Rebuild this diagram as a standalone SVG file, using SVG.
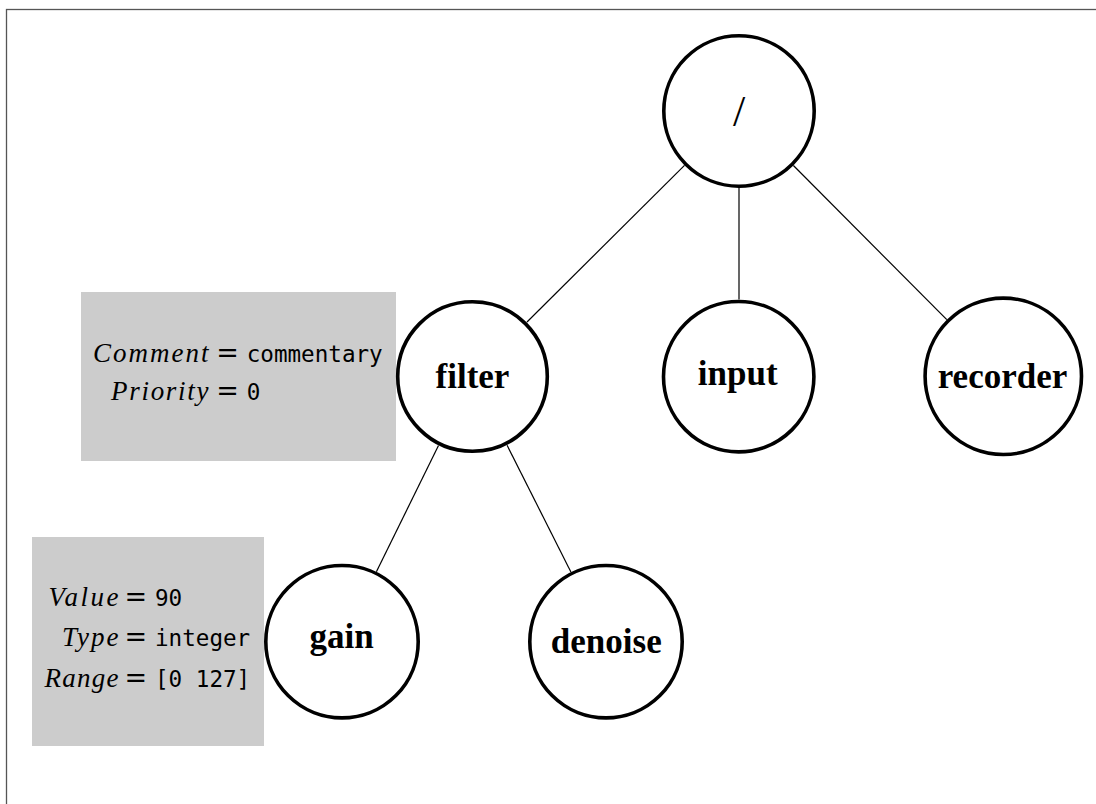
<svg xmlns="http://www.w3.org/2000/svg" width="1096" height="804" viewBox="0 0 1096 804">
  <style>
    .frame { fill: none; stroke: #555; stroke-width: 1.3; }
    .node circle { fill: #fff; stroke: #000; stroke-width: 3.6; }
    .label { font-family: "Liberation Serif", "Times New Roman", serif; font-weight: bold; font-size: 35px; text-anchor: middle; fill: #000; }
    .root-label { font-family: "Liberation Serif", "Times New Roman", serif; font-size: 44px; text-anchor: middle; fill: #000; }
    .edge { stroke: #000; stroke-width: 1.2; fill: none; }
    .note rect { fill: #cccccc; stroke: none; }
    .key { font-family: "Liberation Serif", "Times New Roman", serif; font-style: italic; font-size: 27px; text-anchor: end; fill: #000; }
    .eq { font-family: "DejaVu Serif", serif; font-size: 27px; text-anchor: middle; fill: #000; }
    .val { font-family: "DejaVu Sans Mono", "Liberation Mono", monospace; font-size: 22.6px; fill: #000; }
  </style>

  <!-- page frame -->
  <rect class="frame" x="6.5" y="9.5" width="1100" height="800"/>

  <!-- property boxes -->
  <g id="filter-props" class="note">
    <rect x="81" y="292" width="315" height="169"/>
    <text class="key" x="208.5" y="361.5" textLength="115.5">Comment</text>
    <text class="eq" x="227.5" y="361.5">=</text>
    <text class="val" x="246.7" y="361.5">commentary</text>
    <text class="key" x="208.5" y="400" textLength="97.5">Priority</text>
    <text class="eq" x="227.5" y="400">=</text>
    <text class="val" x="246.7" y="400">0</text>
  </g>

  <g id="gain-props" class="note">
    <rect x="32" y="537" width="232" height="209"/>
    <text class="key" x="118.5" y="605.7" textLength="70">Value</text>
    <text class="eq" x="135.8" y="605.7">=</text>
    <text class="val" x="155" y="605.7">90</text>
    <text class="key" x="118.5" y="645.7" textLength="56.5">Type</text>
    <text class="eq" x="135.8" y="645.7">=</text>
    <text class="val" x="155" y="645.7">integer</text>
    <text class="key" x="118.5" y="686.5" textLength="74">Range</text>
    <text class="eq" x="135.8" y="686.5">=</text>
    <text class="val" x="155" y="686.5">[0 127]</text>
  </g>

  <!-- tree edges -->
  <g id="connectors">
    <line class="edge" x1="684.5" y1="165.4" x2="527" y2="322"/>
    <line class="edge" x1="739" y1="188" x2="739" y2="299.5"/>
    <line class="edge" x1="793.4" y1="165.5" x2="946.8" y2="319.7"/>
    <line class="edge" x1="438.5" y1="445.6" x2="376.4" y2="571.7"/>
    <line class="edge" x1="507.1" y1="445.3" x2="570.9" y2="572"/>
  </g>

  <!-- nodes -->
  <g id="root" class="node">
    <circle cx="739" cy="111" r="75.2"/>
    <text class="root-label" x="739" y="126">/</text>
  </g>
  <g id="filter" class="node">
    <circle cx="472.5" cy="376.5" r="74.8"/>
    <text class="label" x="472.5" y="388.3">filter</text>
  </g>
  <g id="input" class="node">
    <circle cx="738.7" cy="376.7" r="75.2"/>
    <text class="label" x="737.7" y="385">input</text>
  </g>
  <g id="recorder" class="node">
    <circle cx="1003.3" cy="376.3" r="78.2"/>
    <text class="label" x="1002.5" y="388.3">recorder</text>
  </g>
  <g id="gain" class="node">
    <circle cx="342" cy="641.7" r="76.2"/>
    <text class="label" x="341.7" y="648.3">gain</text>
  </g>
  <g id="denoise" class="node">
    <circle cx="606" cy="641.7" r="76.2"/>
    <text class="label" x="606.3" y="653.3">denoise</text>
  </g>
</svg>
